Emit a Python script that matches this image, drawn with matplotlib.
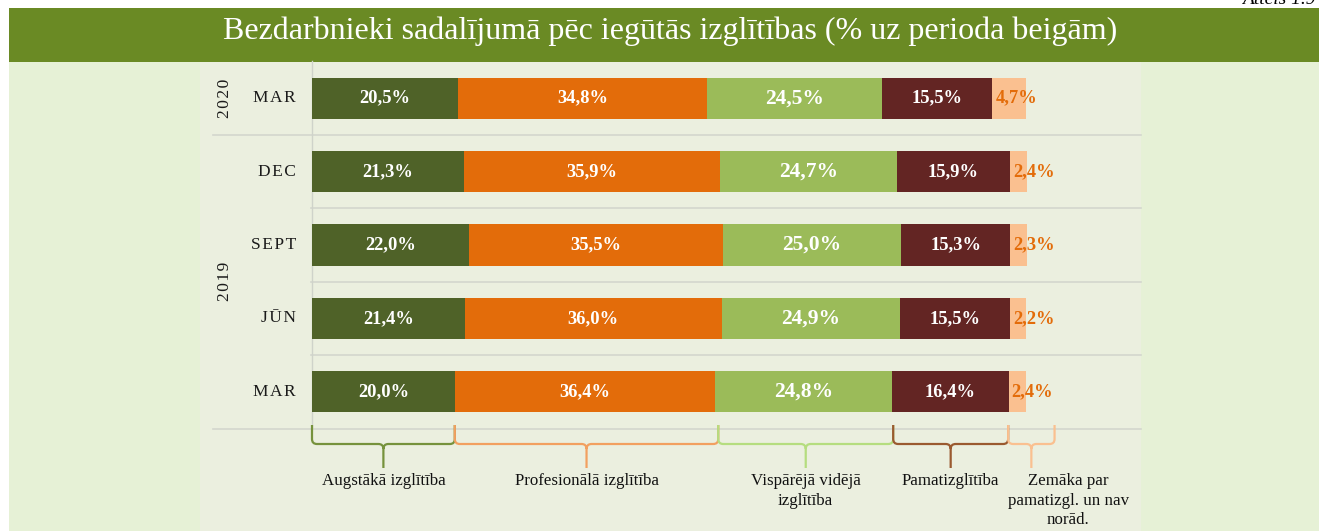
import matplotlib
matplotlib.use("Agg")
import matplotlib.pyplot as plt
from matplotlib.patches import Rectangle, PathPatch
from matplotlib.path import Path
from matplotlib.transforms import blended_transform_factory
import numpy as np

# ---------------- data ----------------
periods = ["MAR", "DEC", "SEPT", "JŪN", "MAR"]
years = ["2020", "2019"]
year_rows = [(0, 0), (1, 4)]
categories = ["Augstākā izglītība", "Profesionālā izglītība",
              "Vispārējā vidējā\nizglītība", "Pamatizglītība",
              "Zemāka par\npamatizgl. un nav\nnorād."]
augstaka = [20.5, 21.3, 22.0, 21.4, 20.0]
profesionala = [34.8, 35.9, 35.5, 36.0, 36.4]
visparejaa = [24.5, 24.7, 25.0, 24.9, 24.8]
pamat = [15.5, 15.9, 15.3, 15.5, 16.4]
zemaka = [4.7, 2.4, 2.3, 2.2, 2.4]
series = [augstaka, profesionala, visparejaa, pamat, zemaka]
brace_edges = [0, 20.0, 56.9, 81.4, 97.5, 104.0]

title = "Bezdarbnieki sadalījumā pēc iegūtās izglītības (% uz perioda beigām)"
fig_label = "Attēls 1.9"

# ---------------- style ----------------
bar_colors = ["#4F6228", "#E36C0A", "#9BBB59", "#632523", "#FAC090"]
brace_colors = ["#76923C", "#F2A060", "#B5DD7F", "#9A5A30", "#FAC090"]
label_colors = ["white", "white", "white", "white", "#E36C0A"]
label_sizes = [13.3, 13.3, 15.5, 13.3, 13.3]
SERIF = ["Liberation Serif", "DejaVu Serif"]

W, H = 1319, 531
fig = plt.figure(figsize=(W / 100, H / 100), dpi=100)
fig.patch.set_facecolor("white")


def fx(x):
    return x / W


def fy(y):
    return 1 - y / H


def frect(x0, y0, x1, y1, color, z=0):
    fig.add_artist(Rectangle((fx(x0), fy(y1)), fx(x1 - x0), (y1 - y0) / H,
                             transform=fig.transFigure, facecolor=color,
                             edgecolor="none", zorder=z))


# backgrounds
frect(9, 62, W, H, "#E6F1D6", z=0)
frect(200, 62, 1141, H, "#EBEFDF", z=0.1)
frect(9, 8, W, 62, "#6A8A24", z=0.2)

fig.text(fx(670), fy(31), title, color="white", family=SERIF, fontsize=23,
         ha="center", va="center", zorder=3)
fig.text(fx(1316), fy(4), fig_label, color="black", family=SERIF, fontsize=14,
         style="italic", ha="right", va="baseline", zorder=3)

# ---------------- axes ----------------
top_px, bot_px = 61.5, 428.5
ax = fig.add_axes([fx(312), fy(bot_px), fx(1141 - 312), (bot_px - top_px) / H])
ax.set_facecolor("none")
ax.set_zorder(2)
n = len(periods)
ypos = np.arange(n)
ax.set_ylim(n - 0.5, -0.5)
ax.set_xlim(0, (1141 - 312) / 7.14)
for s in ["top", "right", "bottom"]:
    ax.spines[s].set_visible(False)
ax.spines["left"].set_color("#CFD3CA")
ax.spines["left"].set_linewidth(1)
ax.set_xticks([])
ax.set_yticks([])

left = np.zeros(n)
for i, vals in enumerate(series):
    vals = np.array(vals)
    ax.barh(ypos, vals, left=left, height=0.56, color=bar_colors[i],
            edgecolor="none", zorder=3)
    for j, v in enumerate(vals):
        txt = f"{v:.1f}%".replace(".", ",")
        if i < 4:
            ax.text(left[j] + v / 2, j, txt, ha="center", va="center",
                    color=label_colors[i], fontsize=label_sizes[i],
                    fontweight="bold", family=SERIF, zorder=4)
        else:
            ax.text(left[j] + 0.4, j, txt, ha="left", va="center",
                    color=label_colors[i], fontsize=label_sizes[i],
                    fontweight="bold", family=SERIF, zorder=4)
    left += vals

# separator lines
tr_fx_dy = blended_transform_factory(fig.transFigure, ax.transData)
for b in np.arange(0.5, n, 1.0):
    x_start = 213 if b in (0.5, n - 0.5) else 311
    ax.plot([fx(x_start), fx(1141)], [b, b], transform=tr_fx_dy,
            color="#D3D6CE", lw=1.2, clip_on=False, zorder=1)

# period labels
for j, p in enumerate(periods):
    ax.text(fx(296), j, "\u200a".join(p), transform=tr_fx_dy, ha="right",
            va="center", fontsize=12.5, family=SERIF, color="#1a1a1a")

# year labels
for yl, (r0, r1) in zip(years, year_rows):
    ax.text(fx(225), (r0 + r1) / 2, "\u200a".join(yl), transform=tr_fx_dy,
            ha="center", va="center", rotation=90, fontsize=12.5,
            family=SERIF, color="#1a1a1a")

# braces
tr_dx_fy = blended_transform_factory(ax.transData, fig.transFigure)
r = 5 / 7.14
y_top, y_mid, y_tip = 425, 444, 468
for i in range(len(categories)):
    x0, x1 = brace_edges[i], brace_edges[i + 1]
    xc = (x0 + x1) / 2
    verts = [
        (x0, fy(y_top)), (x0, fy(y_mid - 5)),
        (x0, fy(y_mid)), (x0 + r, fy(y_mid)),
        (xc - r, fy(y_mid)),
        (xc, fy(y_mid)), (xc, fy(y_mid + 5)),
        (xc, fy(y_tip)),
        (xc, fy(y_mid + 5)),
        (xc, fy(y_mid)), (xc + r, fy(y_mid)),
        (x1 - r, fy(y_mid)),
        (x1, fy(y_mid)), (x1, fy(y_mid - 5)),
        (x1, fy(y_top)),
    ]
    codes = [Path.MOVETO, Path.LINETO,
             Path.CURVE3, Path.CURVE3,
             Path.LINETO,
             Path.CURVE3, Path.CURVE3,
             Path.LINETO,
             Path.MOVETO,
             Path.CURVE3, Path.CURVE3,
             Path.LINETO,
             Path.CURVE3, Path.CURVE3,
             Path.LINETO]
    patch = PathPatch(Path(verts, codes), facecolor="none",
                      edgecolor=brace_colors[i], lw=1.6,
                      transform=tr_dx_fy, clip_on=False, zorder=3)
    ax.add_patch(patch)
    lx = xc if i < 4 else 105.9
    ax.text(lx, fy(473), categories[i], transform=tr_dx_fy, ha="center",
            va="top", fontsize=12.2, family=SERIF, color="#111111",
            linespacing=1.3, clip_on=False)

fig.savefig("out.png", dpi=100)
